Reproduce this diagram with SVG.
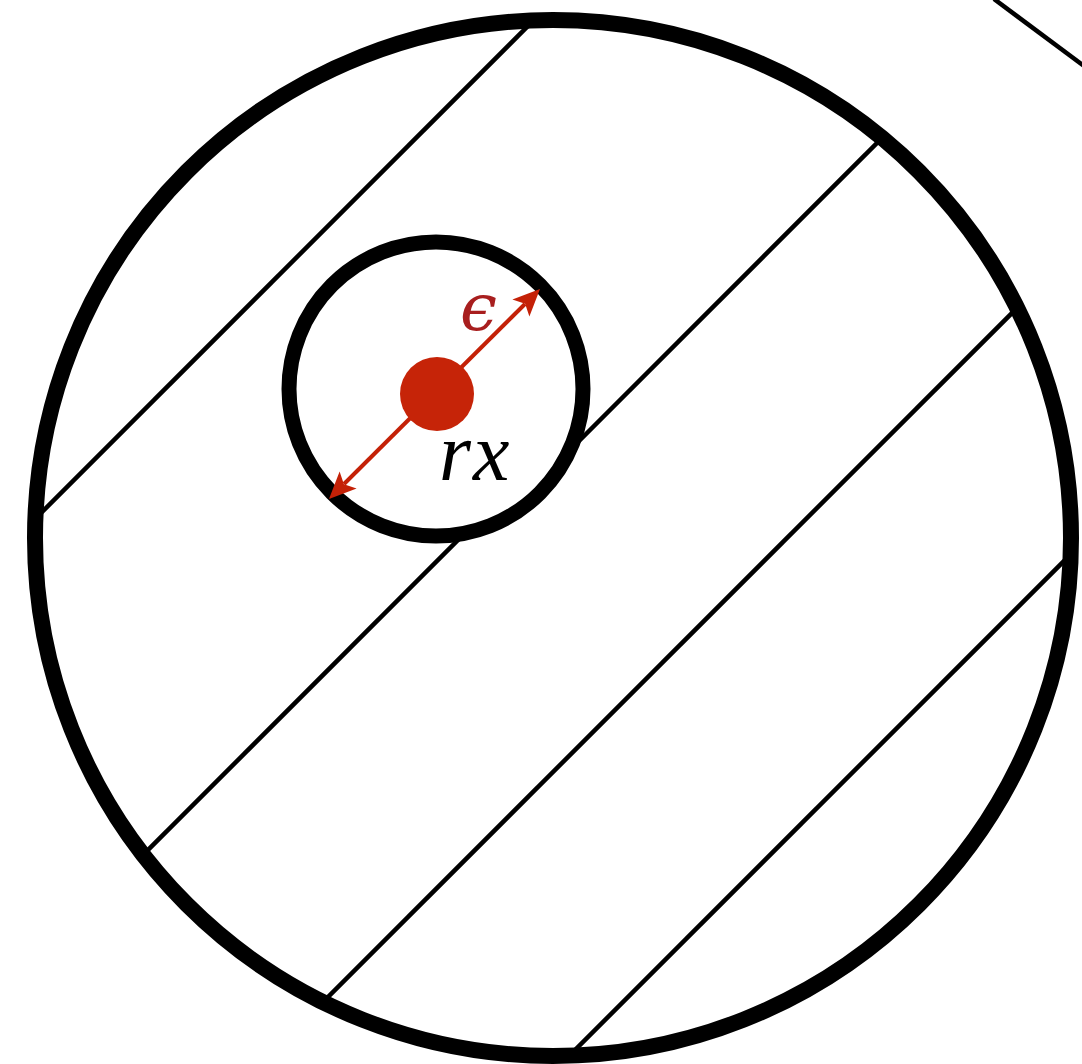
<svg xmlns="http://www.w3.org/2000/svg" width="1082" height="1064" viewBox="0 0 1082 1064">
  <style>
    .hatch { stroke: #000; stroke-width: 4.5; fill: none; }
    .ring { fill: none; stroke: #000; }
    .math { font-family: "Liberation Serif", "DejaVu Serif", serif; font-style: italic; }
    .red { fill: #c42107; }
  </style>
  <defs>
    <clipPath id="bigClip">
      <circle cx="553" cy="538" r="518"/>
    </clipPath>
  </defs>
  <rect width="1082" height="1064" fill="#fff"/>

  <g id="connectors">
    <g clip-path="url(#bigClip)">
      <line class="hatch" x1="600" y1="-46" x2="-46" y2="600"/>
      <line class="hatch" x1="1000" y1="20" x2="520" y2="500"/>
      <line class="hatch" x1="520" y1="478" x2="20" y2="978"/>
      <line class="hatch" x1="1200" y1="125" x2="200" y2="1125"/>
      <line class="hatch" x1="1200" y1="425" x2="500" y2="1125"/>
    </g>
    <line class="hatch" stroke-width="5" x1="994" y1="-1" x2="1084" y2="66"/>
  </g>

  <g id="outer-circle">
    <circle class="ring" cx="553" cy="538" r="518" stroke-width="16"/>
  </g>

  <g id="inner-circle">
    <circle cx="436" cy="389" r="147" fill="#fff" stroke="#000" stroke-width="15"/>
  </g>

  <g id="epsilon-arrow">
    <line x1="344" y1="484" x2="525" y2="304" stroke="#c42107" stroke-width="4"/>
    <polygon class="red" points="540,289 529.4,316.5 525.1,303.8 512.4,299.5"/>
    <polygon class="red" points="329,499 339.6,471.5 343.9,484.2 356.6,488.5"/>
  </g>

  <g id="point">
    <circle cx="437" cy="394" r="37" fill="#c62408"/>
  </g>

  <g id="labels">
    <text x="460" y="330" font-family="DejaVu Serif, serif" font-style="italic" font-size="66" fill="#a81e1e">ϵ</text>
    <text class="math" x="439" y="480" font-size="82" fill="#000" letter-spacing="2">rx</text>
  </g>
</svg>
